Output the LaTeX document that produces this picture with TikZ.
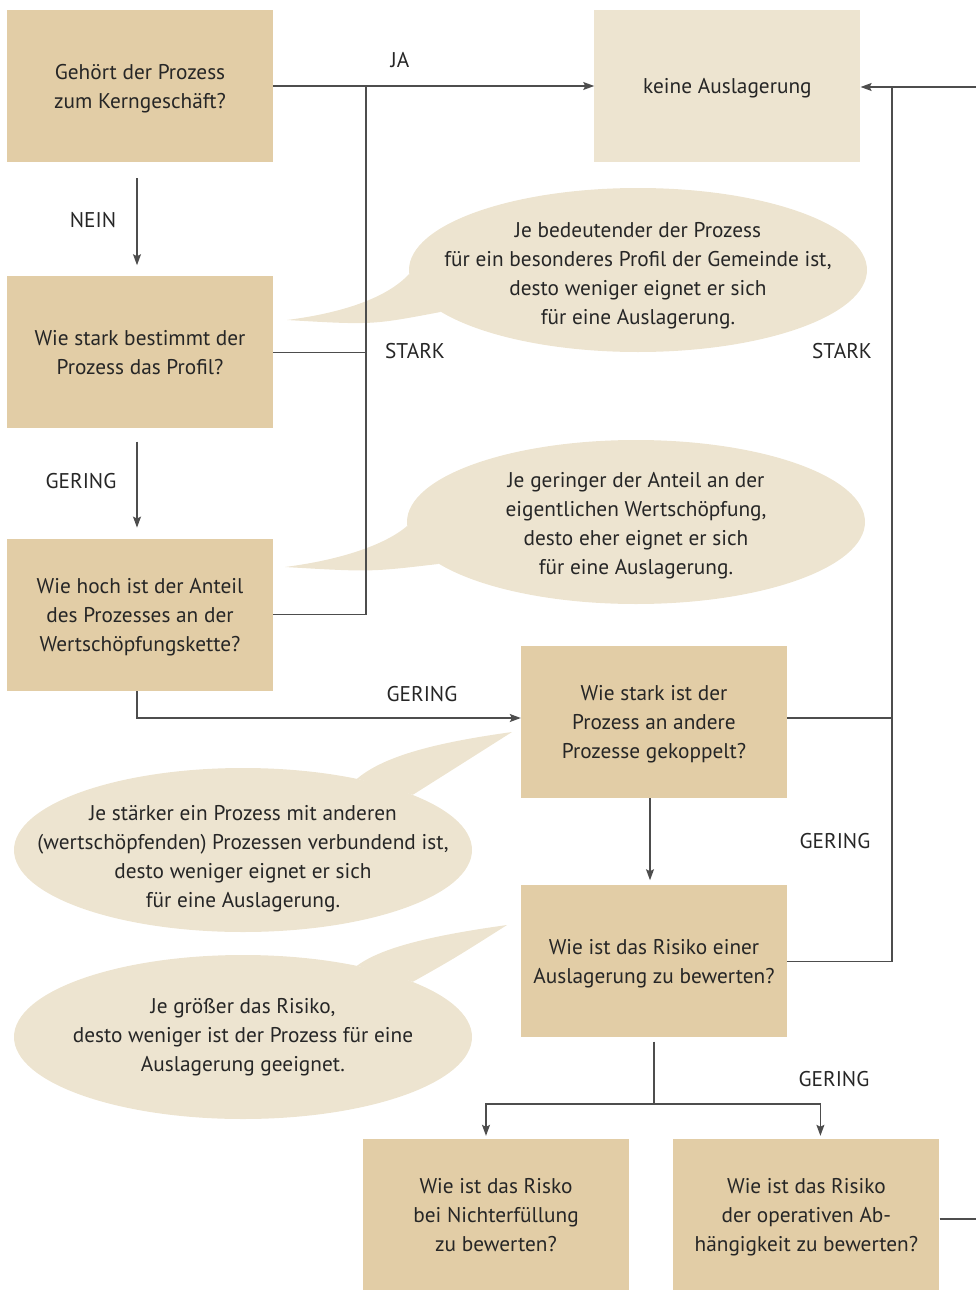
\documentclass[tikz,border=0pt]{standalone}
\usepackage{fontspec}
\setmainfont{PT Sans}
\usetikzlibrary{positioning,arrows.meta,shapes.geometric}
\definecolor{boxdark}{HTML}{E2CDA6}
\definecolor{boxlight}{HTML}{EDE4D0}
\definecolor{linegray}{HTML}{4D4D4D}
\definecolor{textgray}{HTML}{262626}

\begin{document}
\begin{tikzpicture}[x=1pt, y=-1pt,
    every node/.style = {inner sep=0pt, text=textgray, font=\fontsize{21.3}{29}\selectfont, align=center},
    frage/.style = {fill=boxdark, minimum width=266pt, minimum height=152pt, text depth=0pt},
    ergebnis/.style = {fill=boxlight, minimum width=266pt, minimum height=152pt, text depth=0pt},
    blase/.style = {ellipse, fill=boxlight, minimum width=458pt, minimum height=164pt},
    linie/.style = {draw=linegray, line width=1.3pt},
    pfeil/.style = {linie, -{Stealth[length=11pt,width=8pt,inset=2pt]}}]
    \useasboundingbox (0,0) rectangle (976,1290);

    % Sprechblasen
    \node[blase] (b1) at (638,270) {};
    \coordinate (t1) at (287,320);
    \fill[boxlight] (t1) .. controls (342,313) and (387,298) .. (b1.181) -- (b1.192) .. controls (372,325) .. (t1);
    \node (b1text) [yshift=-6pt] at (b1) {Je bedeutender der Prozess\\für ein besonderes Profil der Gemeinde ist,\\desto weniger eignet er sich\\für eine Auslagerung.};
    \node[blase] (b2) at (636,522) {};
    \coordinate (t2) at (285,567);
    \fill[boxlight] (t2) .. controls (340,560) and (385,545) .. (b2.181) -- (b2.192) .. controls (370,572) .. (t2);
    \node (b2text) [yshift=-4pt] at (b2) {Je geringer der Anteil an der\\eigentlichen Wertschöpfung,\\desto eher eignet er sich\\für eine Auslagerung.};
    \node[blase] (b3) at (243,850) {};
    \coordinate (t3) at (512,732);
    \fill[boxlight] (t3) .. controls (440,742) and (385,755) .. (b3.32) -- (b3.18) .. controls (460,765) .. (t3);
    \node (b3text) [yshift=-9pt] at (b3) {Je stärker ein Prozess mit anderen\\(wertschöpfenden) Prozessen verbundend ist,\\desto weniger eignet er sich\\für eine Auslagerung.};
    \node[blase] (b4) at (243,1037) {};
    \coordinate (t4) at (507,925);
    \fill[boxlight] (t4) .. controls (435,935) and (382,947) .. (b4.32) -- (b4.18) .. controls (455,958) .. (t4);
    \node (b4text) at (b4) {Je größer das Risiko,\\desto weniger ist der Prozess für eine\\Auslagerung geeignet.};

    % Kästen
    \node[frage] (kern) at (140,86) {Gehört der Prozess\\zum Kerngeschäft?};
    \node[ergebnis] (keine) [right = 321pt of kern] {keine Auslagerung};
    \node[frage] (profil) [below = 114pt of kern] {Wie stark bestimmt der\\Prozess das Profil?};
    \node[frage] (anteil) [below = 110pt of profil] {Wie hoch ist der Anteil\\des Prozesses an der\\Wertschöpfungskette?};
    \node[frage] (kopplung) at (654,722) {Wie stark ist der\\Prozess an andere\\Prozesse gekoppelt?};
    \node[frage] (risiko) [below = 87pt of kopplung] {Wie ist das Risiko einer\\Auslagerung zu bewerten?};
    \node[frage] (nichterf) at (496,1215) {Wie ist das Risko\\bei Nichterfüllung\\zu bewerten?};
    \node[frage] (abhaeng) [right = 44pt of nichterf] {Wie ist das Risiko\\der operativen Ab-\\hängigkeit zu bewerten?};

    % Hilfspunkte
    \coordinate (j1) at (366,86);
    \coordinate (j2) at (892,87);
    \coordinate (r1) at (976,87);
    \coordinate (split) at (654,1104);
    \coordinate (r2) at (976,1219);

    % Verbindungen
    \draw[pfeil] (kern) -- (keine);
    \draw[linie] (anteil.east) -| (j1);
    \draw[linie] (profil.east) -- (profil.east -| j1);
    \draw[pfeil] (r1) -- (keine.east |- r1);
    \draw[linie] (risiko.east) -| (j2);
    \draw[linie] ([yshift=4pt]kopplung.east) -- ([yshift=4pt]kopplung.east -| j2);
    \draw[pfeil, shorten <=16pt, shorten >=11pt] ([xshift=-3pt]kern.south) -- ([xshift=-3pt]profil.north);
    \draw[pfeil, shorten <=13pt, shorten >=11pt] ([xshift=-3pt]profil.south) -- ([xshift=-3pt]anteil.north);
    \draw[pfeil] ([xshift=-3pt]anteil.south) |- ([yshift=4pt]kopplung.west);
    \draw[pfeil, shorten >=5pt] ([xshift=-4pt]kopplung.south) -- ([xshift=-4pt]risiko.north);
    \draw[linie, shorten <=4pt] (risiko.south) -- (split);
    \draw[pfeil, shorten >=3pt] (split) -| ([xshift=-10pt]nichterf.north);
    \draw[pfeil, shorten >=3pt] (split) -| ([xshift=14pt]abhaeng.north);
    \draw[linie] (abhaeng.east |- r2) -- (r2);

    % Beschriftungen
    \node (ja) at (400,60) {JA};
    \node (nein) at (93,220) {NEIN};
    \node (stark1) at (415,351) {STARK};
    \node (gering1) at (81,481) {GERING};
    \node (gering2) at (422,694) {GERING};
    \node (stark2) at (842,351) {STARK};
    \node (gering3) at (835,841) {GERING};
    \node (gering4) at (834,1079) {GERING};
\end{tikzpicture}
\end{document}
